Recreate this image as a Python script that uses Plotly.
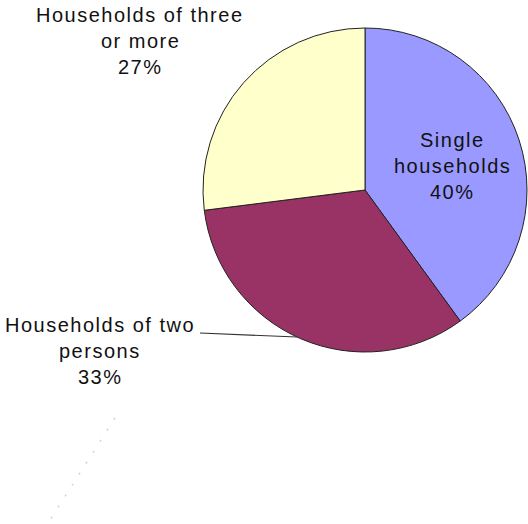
import plotly.graph_objects as go

# Household composition shares (percent)
categories = ["Single households", "Households of two persons", "Households of three or more"]
label_lines = [["Single", "households"], ["Households of two", "persons"], ["Households of three", "or more"]]
shares = [40, 33, 27]
colors = ["#9999FF", "#993366", "#FFFFCC"]

W, H = 528, 524
cx, cy, r = 365, 190, 162  # pie centre and radius in pixels (from top-left)

fig = go.Figure(
    go.Pie(
        labels=categories,
        values=shares,
        sort=False,
        direction="clockwise",
        rotation=0,
        textinfo="none",
        hoverinfo="label+percent",
        marker=dict(colors=colors, line=dict(color="#222222", width=1)),
        domain=dict(
            x=[(cx - r) / W, (cx + r) / W],
            y=[(H - cy - r) / H, (H - cy + r) / H],
        ),
        showlegend=False,
    )
)

# label anchor points (pixel centres of the first text line)
label_pos = [(452, 140), (100, 325), (140, 15)]
line_gap = 26
spacing = "letter-spacing:1.5px"

annotations = []
for lines, share, (lx, ly) in zip(label_lines, shares, label_pos):
    for i, t in enumerate(lines + [f"{share}%"]):
        annotations.append(
            dict(
                x=lx / W,
                y=1 - (ly + i * line_gap) / H,
                xref="paper",
                yref="paper",
                text=f'<span style="{spacing}">{t}</span>',
                showarrow=False,
                xanchor="center",
                yanchor="middle",
                font=dict(family="Liberation Sans, Arial, sans-serif", size=20, color="#111111"),
            )
        )

shapes = [
    # leader line for the two-person slice label
    dict(type="line", xref="paper", yref="paper",
         x0=200 / W, y0=1 - 333 / H, x1=297 / W, y1=1 - 337 / H,
         line=dict(color="#333333", width=1.2)),
    # faint dotted stroke in the lower left
    dict(type="line", xref="paper", yref="paper",
         x0=115 / W, y0=1 - 418 / H, x1=50 / W, y1=1 - 520 / H,
         line=dict(color="#e8c4ec", width=1.5, dash="2px,11px")),
]

fig.update_layout(
    width=W,
    height=H,
    margin=dict(l=0, r=0, t=0, b=0),
    paper_bgcolor="white",
    plot_bgcolor="white",
    annotations=annotations,
    shapes=shapes,
)

fig.write_html("out.html")
